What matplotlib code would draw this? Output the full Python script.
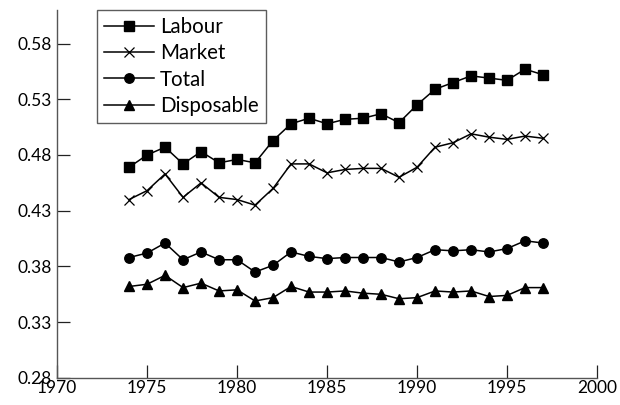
import numpy as np
from matplotlib import pyplot as plt

plt.rcParams['font.family'] = ['Lato', 'DejaVu Sans']

years = list(range(1974, 1998))
labour = [0.469, 0.480, 0.487, 0.472, 0.483, 0.473, 0.476, 0.473, 0.493, 0.508,
          0.513, 0.508, 0.512, 0.513, 0.517, 0.509, 0.525, 0.539, 0.545, 0.551,
          0.549, 0.547, 0.557, 0.552]
market = [0.440, 0.448, 0.463, 0.442, 0.455, 0.442, 0.440, 0.435, 0.450, 0.472,
          0.472, 0.464, 0.467, 0.468, 0.468, 0.460, 0.469, 0.487, 0.491, 0.499,
          0.496, 0.494, 0.497, 0.495]
total = [0.388, 0.392, 0.401, 0.386, 0.393, 0.386, 0.386, 0.375, 0.381, 0.393,
         0.389, 0.387, 0.388, 0.388, 0.388, 0.384, 0.388, 0.395, 0.394, 0.395,
         0.393, 0.396, 0.403, 0.401]
disposable = [0.362, 0.364, 0.372, 0.361, 0.365, 0.358, 0.359, 0.349, 0.352, 0.362,
              0.357, 0.357, 0.358, 0.356, 0.355, 0.351, 0.352, 0.358, 0.357, 0.358,
              0.353, 0.354, 0.361, 0.361]

xticks = [1970, 1975, 1980, 1985, 1990, 1995, 2000]
yticks = [0.28, 0.33, 0.38, 0.43, 0.48, 0.53, 0.58]

fig = plt.figure(figsize=(6.2, 4.05), dpi=100)
ax = fig.add_axes([0.092, 0.067, 0.871, 0.908])

ax.plot(years, labour, color='black', lw=1.1, marker='s', ms=6.5, label='Labour')
ax.plot(years, market, color='black', lw=1.1, marker='x', ms=7, mew=0.9, label='Market')
ax.plot(years, total, color='black', lw=1.1, marker='o', ms=6.8, label='Total')
ax.plot(years, disposable, color='black', lw=1.1, marker='^', ms=7, label='Disposable')

ax.set_xlim(1970, 2000)
ax.set_ylim(0.28, 0.61)
ax.set_xticks(xticks)
ax.set_yticks(yticks)
ax.set_yticklabels(['%.2f' % v for v in yticks])
ax.tick_params(direction='in', length=9.5, width=0.9, labelsize=12.5, color='#222222')
ax.tick_params(axis='y', pad=4)
ax.tick_params(axis='x', pad=1.5)

for side in ['top', 'right']:
    ax.spines[side].set_visible(False)
for side in ['left', 'bottom']:
    ax.spines[side].set_color('#555555')
    ax.spines[side].set_linewidth(1.0)

leg = ax.legend(loc='upper left', bbox_to_anchor=(0.074, 1.0), fontsize=14.8,
                frameon=True, fancybox=False, handlelength=2.4, handletextpad=0.3,
                labelspacing=0.3, borderpad=0.35, borderaxespad=0)
leg.get_frame().set_edgecolor('#333333')
leg.get_frame().set_linewidth(1.0)

fig.savefig('out.png', dpi=100)
